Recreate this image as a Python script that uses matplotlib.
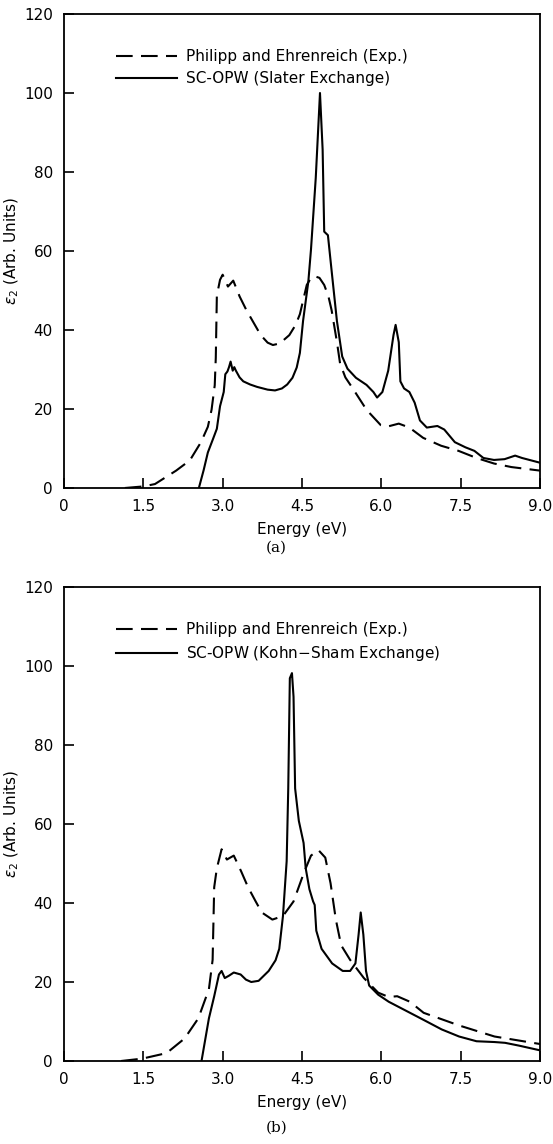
#epsilon_2 spectra: experiment vs SC-OPW calculations, two exchange choices
import matplotlib
matplotlib.use('Agg')
import matplotlib.pyplot as plt

# experimental curve (Philipp and Ehrenreich), panel (a)
exp_a_E = [1.15, 1.5, 1.72, 2.12, 2.38, 2.59, 2.72, 2.79, 2.85, 2.87, 2.89, 2.95, 3.0, 3.1, 3.2,
           3.32, 3.45, 3.6, 3.72, 3.85, 3.95, 4.08, 4.26, 4.38, 4.46, 4.59, 4.67, 4.74, 4.83,
           4.92, 5.0, 5.06, 5.16, 5.22, 5.32, 5.46, 5.72, 5.99, 6.13, 6.33, 6.53, 6.79, 7.13,
           7.46, 7.8, 8.13, 8.46, 9.0]
exp_a_y = [0.0, 0.4, 1.0, 4.4, 7.0, 11.6, 15.5, 19.8, 26.0, 33.0, 48.7, 52.7, 54.0, 51.0, 52.5,
           48.5, 45.0, 41.5, 38.7, 36.8, 36.2, 36.6, 38.7, 41.3, 44.0, 51.4, 53.2, 53.6, 53.2,
           51.4, 48.5, 45.0, 37.0, 31.5, 28.0, 25.2, 19.8, 15.9, 15.6, 16.3, 15.3, 12.7, 10.7,
           9.4, 7.6, 6.2, 5.3, 4.4]

# SC-OPW with Slater exchange, panel (a)
sl_E = [2.55, 2.64, 2.72, 2.82, 2.89, 2.95, 3.02, 3.05, 3.09, 3.12, 3.15, 3.19, 3.22, 3.25,
        3.32, 3.39, 3.52, 3.65, 3.85, 3.99, 4.12, 4.22, 4.32, 4.4, 4.46, 4.52, 4.62, 4.67,
        4.76, 4.84, 4.89, 4.92, 4.99, 5.06, 5.16, 5.26, 5.36, 5.52, 5.72, 5.85, 5.92, 6.02,
        6.13, 6.23, 6.27, 6.33, 6.36, 6.43, 6.53, 6.63, 6.73, 6.86, 7.06, 7.19, 7.39, 7.59,
        7.76, 7.93, 8.13, 8.33, 8.53, 8.66, 9.0]
sl_y = [0.0, 4.5, 9.0, 12.5, 15.0, 20.7, 24.3, 28.8, 29.5, 30.6, 32.0, 29.7, 30.6, 29.7,
        28.0, 27.0, 26.2, 25.6, 24.9, 24.7, 25.2, 26.2, 27.9, 30.5, 34.2, 42.3, 52.3, 60.4,
        78.5, 100.0, 85.7, 64.9, 64.0, 55.0, 42.3, 33.3, 30.2, 27.9, 26.1, 24.3, 22.9, 24.3,
        29.7, 38.7, 41.3, 36.9, 27.0, 25.2, 24.3, 21.6, 17.1, 15.3, 15.7, 14.8, 11.6, 10.3,
        9.4, 7.6, 7.1, 7.3, 8.2, 7.6, 6.4]

# experimental curve, panel (b)
exp_b_E = [1.08, 1.48, 1.94, 2.28, 2.54, 2.74, 2.81, 2.84, 2.89, 2.98, 3.08, 3.21, 3.35, 3.48,
           3.62, 3.74, 3.94, 4.14, 4.34, 4.54, 4.67, 4.81, 4.94, 5.04, 5.14, 5.24, 5.41, 5.67,
           5.94, 6.14, 6.3, 6.54, 6.8, 7.47, 8.14, 9.0]
exp_b_y = [0.0, 0.6, 2.0, 5.7, 10.8, 18.2, 25.6, 44.0, 48.8, 53.6, 51.0, 52.0, 48.0, 44.0,
           40.5, 37.6, 35.8, 36.7, 40.4, 47.8, 52.0, 53.4, 51.5, 45.0, 35.8, 29.3, 25.6, 21.0,
           17.3, 16.2, 16.4, 15.0, 12.2, 9.0, 6.2, 4.3]

# SC-OPW with Kohn-Sham exchange, panel (b)
ks_E = [2.6, 2.74, 2.84, 2.93, 2.98, 3.04, 3.12, 3.21, 3.34, 3.44, 3.54, 3.68, 3.87, 4.0,
        4.07, 4.14, 4.21, 4.24, 4.27, 4.31, 4.34, 4.37, 4.44, 4.53, 4.57, 4.64, 4.71, 4.74,
        4.77, 4.87, 5.07, 5.27, 5.41, 5.51, 5.57, 5.61, 5.66, 5.71, 5.77, 5.94, 6.14, 6.47,
        6.8, 7.14, 7.47, 7.8, 8.14, 8.34, 8.6, 9.0]
ks_y = [0.0, 10.8, 16.4, 21.9, 22.8, 21.0, 21.6, 22.4, 21.9, 20.6, 20.0, 20.3, 22.8, 25.5,
        28.4, 36.7, 50.6, 69.0, 96.9, 98.2, 92.2, 69.0, 60.8, 55.2, 48.8, 43.5, 40.4, 39.5,
        33.0, 28.4, 24.7, 22.8, 22.8, 24.7, 32.0, 37.6, 32.0, 22.8, 19.1, 16.8, 15.0, 12.7,
        10.4, 8.0, 6.2, 5.0, 4.8, 4.6, 3.9, 2.7]

xticks = [0, 1.5, 3.0, 4.5, 6.0, 7.5, 9.0]
xtick_labels = ['0', '1.5', '3.0', '4.5', '6.0', '7.5', '9.0']
yticks = [0, 20, 40, 60, 80, 100, 120]

fig = plt.figure(figsize=(5.53, 11.44), dpi=100)
ax1 = fig.add_axes([64/553, 1-488/1144, 476/553, 474/1144])
ax2 = fig.add_axes([64/553, 1-1061/1144, 476/553, 474/1144])

panels = [(ax1, exp_a_E, exp_a_y, sl_E, sl_y, 'SC-OPW (Slater Exchange)', '(a)', 1-548/1144),
          (ax2, exp_b_E, exp_b_y, ks_E, ks_y, 'SC-OPW (Kohn$-$Sham Exchange)', '(b)', 1-1128/1144)]

for ax, eE, ey, cE, cy, lab, cap, capy in panels:
    ax.plot(eE, ey, color='k', lw=1.5, dashes=(8, 4), label='Philipp and Ehrenreich (Exp.)')
    ax.plot(cE, cy, color='k', lw=1.5, label=lab)
    ax.set_xlim(0, 9.0)
    ax.set_ylim(0, 120)
    ax.set_xticks(xticks)
    ax.set_xticklabels(xtick_labels)
    ax.set_yticks(yticks)
    ax.tick_params(direction='in', length=7, width=1.2, labelsize=11, pad=8)
    for s in ax.spines.values():
        s.set_linewidth(1.3)
    ax.set_xlabel('Energy (eV)', fontsize=11, labelpad=6)
    ax.set_ylabel(r'$\epsilon_2$ (Arb. Units)', fontsize=11)
    ax.yaxis.set_label_coords(-0.09, 0.5)
    leg = ax.legend(loc='upper left', bbox_to_anchor=(0.08, 0.955), frameon=False,
                    fontsize=11, handlelength=4.0, handletextpad=0.6, labelspacing=0.45)
    fig.text(0.5, capy, cap, ha='center', va='center', fontsize=11, family='DejaVu Serif')

fig.savefig('out.png', dpi=100)
